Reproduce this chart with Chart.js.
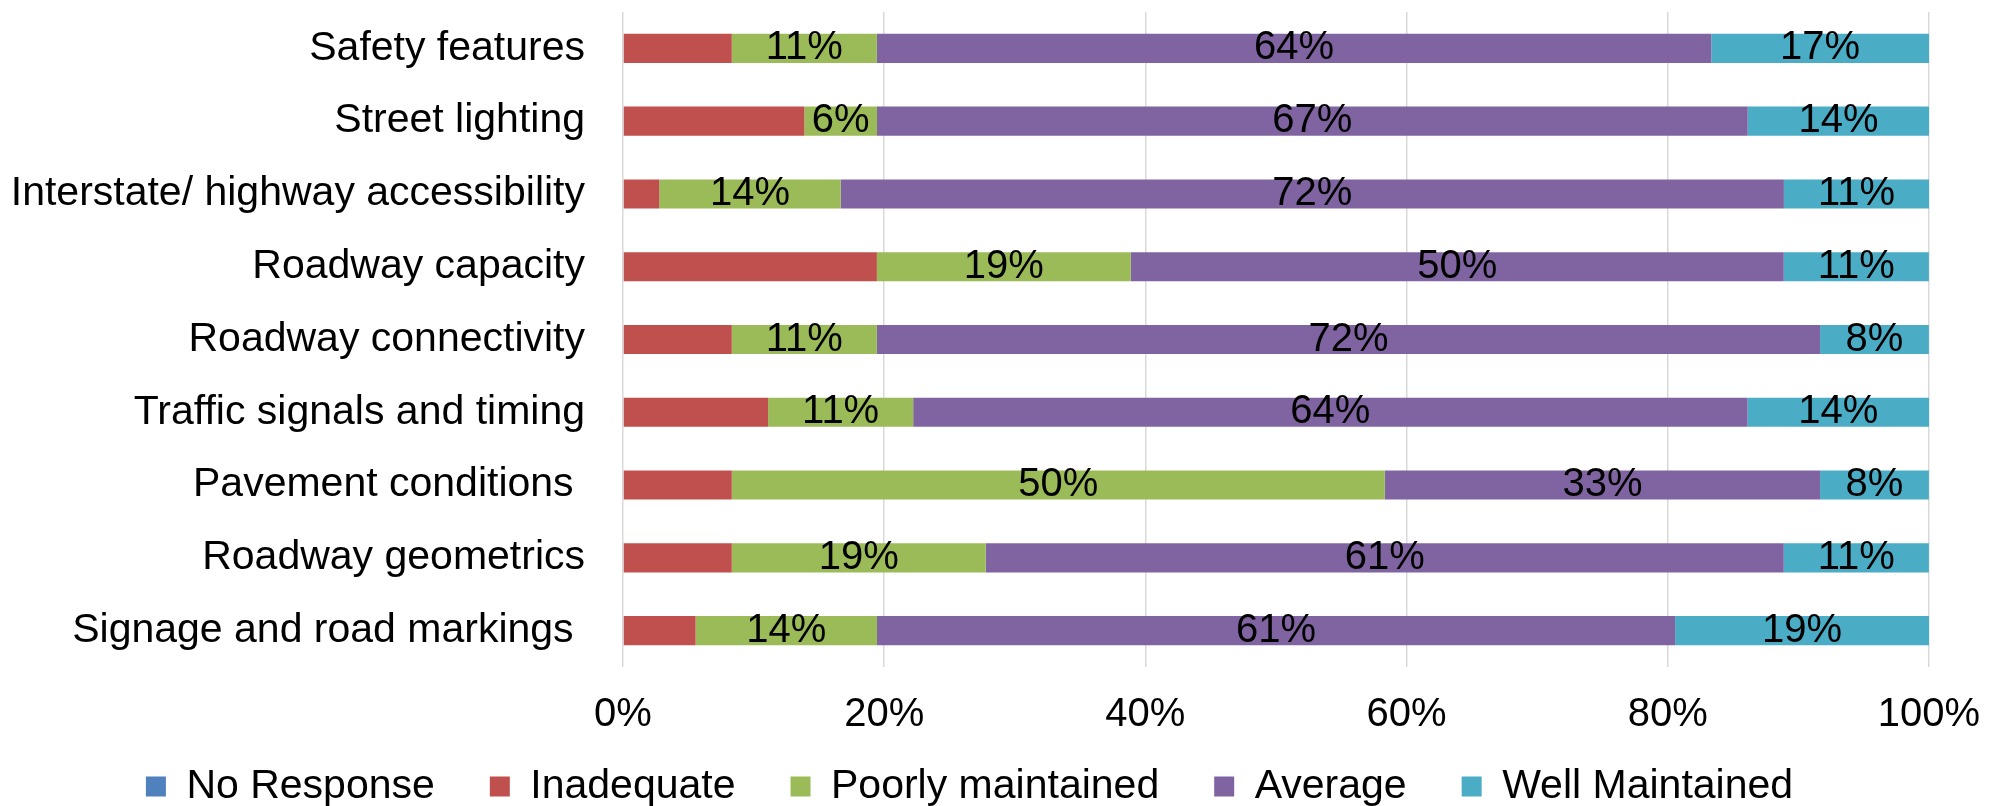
<!DOCTYPE html>
<html>
<head>
<meta charset="utf-8">
<title>Transportation infrastructure ratings</title>
<script src="https://cdn.jsdelivr.net/npm/chart.js@4.4.1/dist/chart.umd.min.js"></script>
<style>
  html, body { margin: 0; padding: 0; background: #fff; }
  #wrap { width: 1994px; height: 806px; }
</style>
</head>
<body>
<div id="wrap"><canvas id="ratingChart" width="1994" height="806"></canvas></div>
<script>
const categories = [
  'Safety features',
  'Street lighting',
  'Interstate/ highway accessibility',
  'Roadway capacity',
  'Roadway connectivity',
  'Traffic signals and timing',
  'Pavement conditions ',
  'Roadway geometrics',
  'Signage and road markings '
];

// share of responses, percent
const noResponse = [0, 0, 0, 0, 0, 0, 0, 0, 0];
const inadequate = [8.33, 13.89, 2.78, 19.44, 8.33, 11.11, 8.33, 8.33, 5.56];
const poorlyMaintained = [11.11, 5.56, 13.89, 19.44, 11.11, 11.11, 50.00, 19.44, 13.89];
const average = [63.89, 66.67, 72.22, 50.00, 72.22, 63.89, 33.33, 61.11, 61.11];
const wellMaintained = [16.67, 13.89, 11.11, 11.11, 8.33, 13.89, 8.33, 11.11, 19.44];

const xTicks = [0, 20, 40, 60, 80, 100];

const FONT = '"Liberation Sans", Arial, sans-serif';

// value labels centred in each segment (only for series that have them)
const segmentLabels = {
  id: 'segmentLabels',
  afterDatasetsDraw(chart) {
    const ctx = chart.ctx;
    ctx.save();
    ctx.font = '40px ' + FONT;
    ctx.fillStyle = '#000';
    ctx.textAlign = 'center';
    ctx.textBaseline = 'middle';
    chart.data.datasets.forEach((ds, i) => {
      if (!ds.showValues) return;
      const meta = chart.getDatasetMeta(i);
      meta.data.forEach((bar, j) => {
        const v = ds.data[j];
        if (!v) return;
        const cx = (bar.x + bar.base) / 2;
        ctx.fillText(Math.round(v) + '%', cx, bar.y);
      });
    });
    ctx.restore();
  }
};

const ctx = document.getElementById('ratingChart').getContext('2d');
new Chart(ctx, {
  type: 'bar',
  data: {
    labels: categories,
    datasets: [
      { label: 'No Response', data: noResponse, backgroundColor: '#4F81BD', showValues: false },
      { label: 'Inadequate', data: inadequate, backgroundColor: '#C0504D', showValues: false },
      { label: 'Poorly maintained', data: poorlyMaintained, backgroundColor: '#9BBB59', showValues: true },
      { label: 'Average', data: average, backgroundColor: '#8064A2', showValues: true },
      { label: 'Well Maintained', data: wellMaintained, backgroundColor: '#4BACC6', showValues: true }
    ]
  },
  options: {
    indexAxis: 'y',
    responsive: false,
    animation: false,
    barPercentage: 0.4,
    categoryPercentage: 1.0,
    layout: { padding: { top: 12, left: 10, right: 65, bottom: -11 } },
    scales: {
      x: {
        stacked: true,
        min: 0,
        max: 100,
        afterBuildTicks(scale) {
          scale.ticks = xTicks.map(v => ({ value: v }));
        },
        // keep the axis box short so the legend sits close; labels hang below it
        afterFit(scale) {
          scale.height = 44;
          scale.paddingLeft = 0;
          scale.paddingRight = 0;
        },
        ticks: {
          color: '#000',
          mirror: true,
          padding: -72,
          font: { family: FONT, size: 40 },
          callback: v => v + '%'
        },
        grid: { color: '#d9d9d9', lineWidth: 1.5, drawTicks: false },
        border: { display: false }
      },
      y: {
        stacked: true,
        afterFit(scale) {
          scale.width = 613;
          scale.paddingTop = 0;
          scale.paddingBottom = 0;
        },
        ticks: {
          color: '#000',
          padding: 38,
          font: { family: FONT, size: 41 }
        },
        grid: { display: false, drawTicks: false },
        border: { display: false }
      }
    },
    plugins: {
      legend: {
        position: 'bottom',
        labels: {
          color: '#000',
          boxWidth: 20,
          boxHeight: 20,
          padding: 55,
          font: { family: FONT, size: 41 }
        }
      },
      tooltip: { enabled: false }
    }
  },
  plugins: [segmentLabels]
});
</script>
</body>
</html>
